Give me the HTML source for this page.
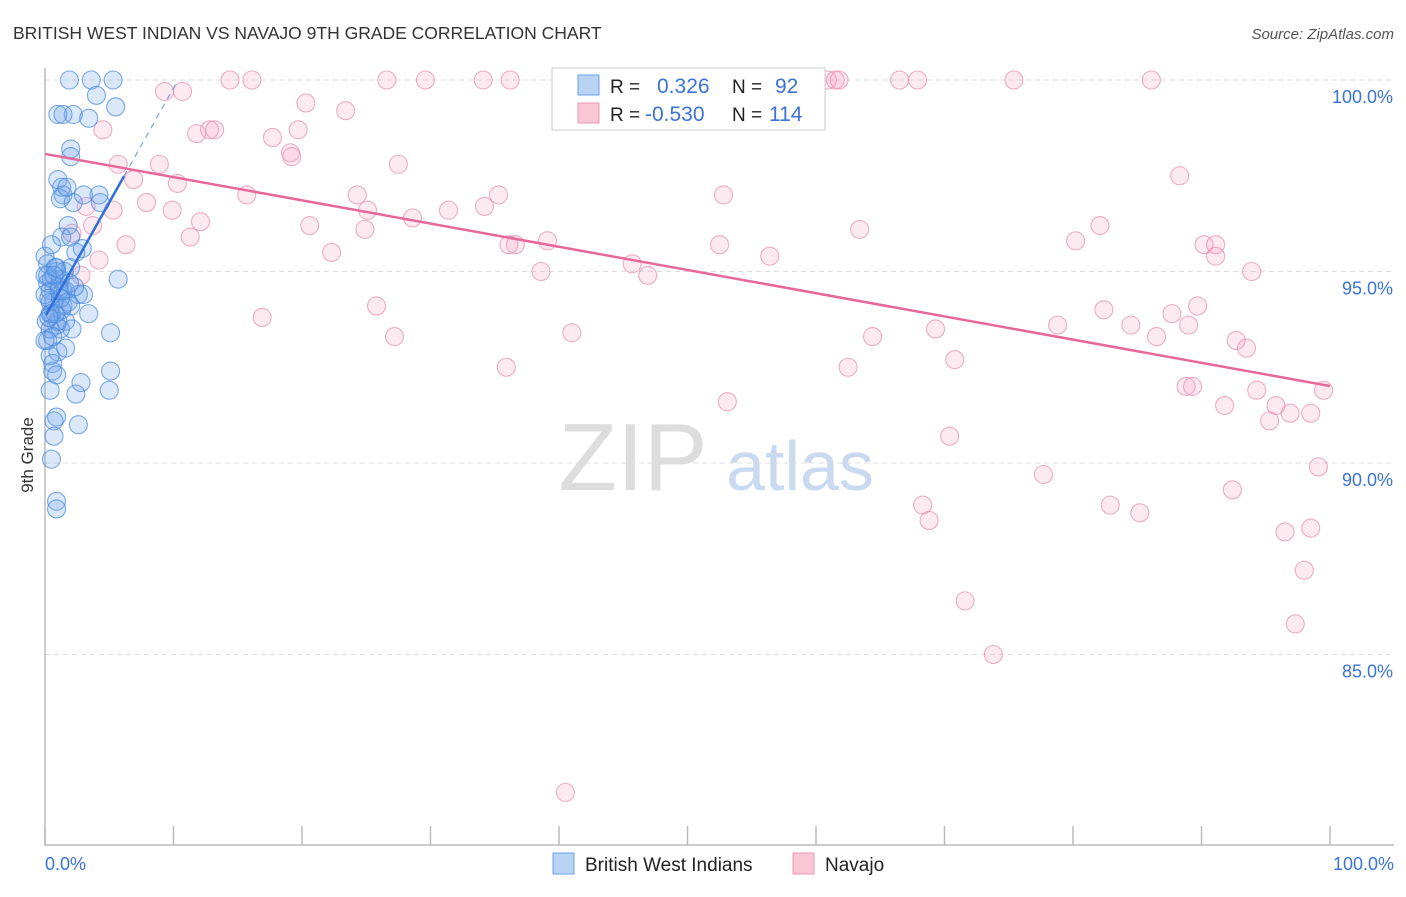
<!DOCTYPE html>
<html><head><meta charset="utf-8"><style>
body{margin:0;background:#fff;font-family:"Liberation Sans",sans-serif;}
svg text{font-family:"Liberation Sans",sans-serif;}
</style></head><body>
<svg id="chart" width="1406" height="892" xmlns="http://www.w3.org/2000/svg">
<text x="13" y="39" font-size="17.5" fill="#333">BRITISH WEST INDIAN VS NAVAJO 9TH GRADE CORRELATION CHART</text>
<text x="1394" y="39" font-size="15" fill="#555" text-anchor="end" font-style="italic">Source: ZipAtlas.com</text>
<text transform="translate(33,455) rotate(-90)" font-size="17" fill="#333" text-anchor="middle">9th Grade</text>
<g><text x="633" y="490" font-size="96" fill="#ddd" text-anchor="middle" font-family="Liberation Serif">ZIP</text><text x="800" y="490" font-size="70" fill="#c9d9f0" text-anchor="middle">atlas</text></g>
<g id="grid"></g><g id="pts"></g><g id="trend"></g>
<g>
<rect x="552" y="68" width="273" height="62" fill="#fff" stroke="#ccc"/>
<rect x="578" y="75" width="21" height="20" fill="#b9d3f5" stroke="#6aa0e6"/>
<rect x="578" y="103" width="21" height="20" fill="#f9c6d6" stroke="#ec9ab6"/>
<text x="610" y="93" font-size="19" fill="#222">R =</text><text x="657" y="93" font-size="21" fill="#3a74d6">0.326</text>
<text x="732" y="93" font-size="19" fill="#222">N =</text><text x="775" y="93" font-size="21" fill="#3a74d6">92</text>
<text x="610" y="121" font-size="19" fill="#222">R =</text><text x="645" y="121" font-size="21" fill="#3a74d6">-0.530</text>
<text x="732" y="121" font-size="19" fill="#222">N =</text><text x="769" y="121" font-size="21" fill="#3a74d6">114</text>
</g>
<g>
<rect x="553" y="853" width="21" height="21" fill="#b9d3f5" stroke="#6aa0e6"/><text x="585" y="871" font-size="19" fill="#222">British West Indians</text>
<rect x="793" y="853" width="21" height="21" fill="#f9c6d6" stroke="#ec9ab6"/><text x="825" y="871" font-size="19" fill="#222">Navajo</text>
</g>
</svg>
<script>
const yTicks=[100,95,90,85];
const yTickLabels=["100.0%","95.0%","90.0%","85.0%"];
const xTicks=[0,10,20,30,40,50,60,70,80,90,100];
const blueX=[1.9,3.6,5.3,4,5.5,2.2,1,1.4,3.4,2,2,1,1.3,1.4,1.2,2.2,3,4.2,4.3,1.8,1.3,2,2.9,0,0.9,2,5.7,0,0.5,0.4,1.4,2.6,3,0.7,1.4,3.4,0.4,1.6,0.9,2.1,1.2,5.1,0.2,1,0.6,0.6,0.9,5.1,2.8,5,2.4,0.4,0.9,0.7,2.6,0.7,0.5,0.9,0.9,0.4,0.1,0.4,1.2,1.6,0,0.9,0.2,1.3,1.8,2.3,0,0.2,0.5,1.7,2.4,0.5,1,1.6,0.3,0.8,1.5,2.0,0.6,1.1,0.2,0.3,1.9,0.8,1.2,0.4,0.7,1.1];
const blueY=[100,100,100,99.6,99.3,99.1,99.1,99.1,99,98.2,98,97.4,97.2,97,96.9,96.8,97,97,96.8,96.2,95.9,95.9,95.6,95.4,95.1,95.1,94.8,94.9,94.8,94.5,94.5,94.4,94.4,94.2,94.1,93.9,93.9,93.7,93.6,93.5,93.5,93.4,93.2,92.9,92.6,92.4,92.3,92.4,92.1,91.9,91.8,91.9,91.2,91.1,91,90.7,90.1,89,88.8,94.2,93.7,93.5,94.8,94.5,94.4,95,94.7,94,94.2,94.6,93.2,95.2,95.7,97.2,95.5,93.9,93.7,93,94.3,93.9,95,94.1,93.3,94.6,94.9,93.8,94.7,95.1,94.3,92.8,94.9,94.5];
const pinkX=[4.5,5.7,6.9,8.9,10.3,9.3,10.7,11.8,12.8,13.2,14.4,16.1,20.3,23.4,17.7,19.7,19.1,19.2,15.7,12.1,11.3,9.9,7.9,5.3,3.2,6.3,4.2,2.1,3.7,2.8,16.9,20.6,22.3,24.3,25.1,24.9,27.5,25.8,27.2,26.6,29.6,28.6,31.4,34.2,35.3,34.1,36.2,36.6,38.6,35.9,40.5,39.1,45.7,46.9,46.5,52.3,52.5,53.1,52.8,56.4,58.1,60.9,61.5,63.4,64.4,66.5,67.9,69.3,70.8,70.4,68.3,61.8,71.6,73.8,75.4,77.7,78.8,80.2,82.1,82.9,85.2,86.1,84.5,86.5,87.7,88.3,88.8,89.3,89.7,90.2,91.1,91.1,91.8,92.4,92.7,93.5,93.9,94.3,95.3,95.8,96.5,96.9,97.3,98,98.5,99.5,99.1,98.5,82.4,36.1,41,68.8,62.5,89];
const pinkY=[98.7,97.8,97.4,97.8,97.3,99.7,99.7,98.6,98.7,98.7,100,100,99.4,99.2,98.5,98.7,98.1,98,97,96.3,95.9,96.6,96.8,96.6,96.7,95.7,95.3,96,96.2,94.9,93.8,96.2,95.5,97,96.6,96.1,97.8,94.1,93.3,100,100,96.4,96.6,96.7,97,100,100,95.7,95,92.5,81.4,95.8,95.2,94.9,100,100,95.7,91.6,97,95.4,100,100,100,96.1,93.3,100,100,93.5,92.7,90.7,88.9,100,86.4,85,100,89.7,93.6,95.8,96.2,88.9,88.7,100,93.6,93.3,93.9,97.5,92,92,94.1,95.7,95.7,95.4,91.5,89.3,93.2,93,95,91.9,91.1,91.5,88.2,91.3,85.8,87.2,91.3,91.9,89.9,88.3,94,95.7,93.4,88.5,92.5,93.6];
const pinkTrend=[[0,98.07],[100,92.01]];
const blueTrend=[[0.08,93.86],[6.15,97.49]];
const blueDash=[[6.15,97.49],[10.35,100]];
const NS="http://www.w3.org/2000/svg";
const X0=45,X1=1330,Y100=80,PY=38.3;
function sx(v){return X0+(X1-X0)*v/100;}
function sy(v){return Y100+(100-v)*PY;}
function mk(tag,attrs,parent){const e=document.createElementNS(NS,tag);for(const k in attrs)e.setAttribute(k,attrs[k]);parent.appendChild(e);return e;}
const grid=document.getElementById('grid');
yTicks.forEach((t,i)=>{
 const l=mk('line',{x1:X0,x2:1394,y1:sy(t),y2:sy(t),stroke:'#ddd','stroke-dasharray':'5,4'},grid);
 
 
 const tx=mk('text',{x:1393,y:sy(t)+23,'font-size':18,fill:'#3a74d6','text-anchor':'end'},grid);
 tx.textContent=yTickLabels[i];
 
 
});
const ax=mk('path',{d:`M${X0} 68 V845 H1394`,stroke:'#bbb',fill:'none','stroke-width':1.5},grid);


xTicks.forEach(t=>{
 const l=mk('line',{x1:sx(t),x2:sx(t),y1:826,y2:845,stroke:'#bbb','stroke-width':1.5},grid);
 
 
});
const xl0=mk('text',{x:45,y:870,'font-size':18,fill:'#3a74d6'},grid);xl0.textContent='0.0%';


const xl1=mk('text',{x:1394,y:870,'font-size':18,fill:'#3a74d6','text-anchor':'end'},grid);xl1.textContent='100.0%';


const pts=document.getElementById('pts');
pinkX.forEach((v,i)=>{
 const c=mk('circle',{cx:sx(v),cy:sy(pinkY[i]),r:9,fill:'rgba(244,160,190,0.22)',stroke:'rgba(230,140,175,0.7)','stroke-width':1.1},pts);
 
 
});
blueX.forEach((v,i)=>{
 const c=mk('circle',{cx:sx(v),cy:sy(blueY[i]),r:9,fill:'rgba(110,165,235,0.25)',stroke:'rgba(70,135,220,0.7)','stroke-width':1.1},pts);
 
 
});
const tr=document.getElementById('trend');
const p1=mk('line',{x1:sx(pinkTrend[0][0]),y1:sy(pinkTrend[0][1]),x2:sx(pinkTrend[1][0]),y2:sy(pinkTrend[1][1]),stroke:'#e8679a','stroke-width':2.5},tr);


const b1=mk('line',{x1:sx(blueTrend[0][0]),y1:sy(blueTrend[0][1]),x2:sx(blueTrend[1][0]),y2:sy(blueTrend[1][1]),stroke:'#2f6fd8','stroke-width':2.5},tr);


const b2=mk('line',{x1:sx(blueDash[0][0]),y1:sy(blueDash[0][1]),x2:sx(blueDash[1][0]),y2:sy(blueDash[1][1]),stroke:'#7aa5e0','stroke-width':1.2,'stroke-dasharray':'6,5'},tr);


</script>
</body></html>
